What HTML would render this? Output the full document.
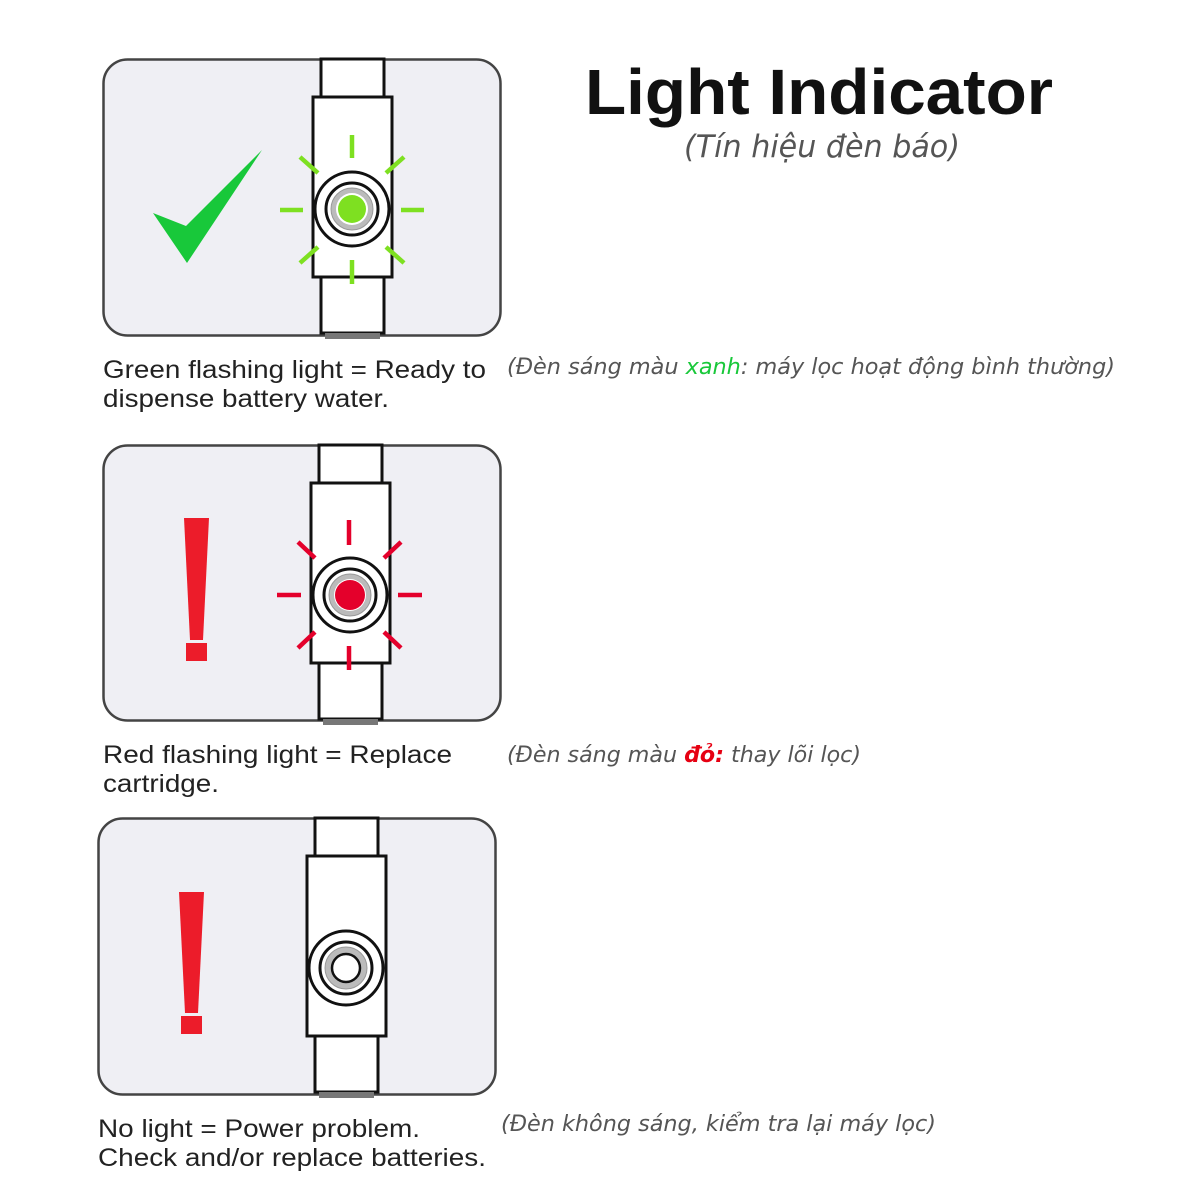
<!DOCTYPE html>
<html><head><meta charset="utf-8"><style>html,body{margin:0;padding:0;background:#fff}svg{display:block}</style></head>
<body>
<svg width="1200" height="1200" viewBox="0 0 1200 1200" xmlns="http://www.w3.org/2000/svg">
<defs>
<g id="dev">
 <rect x="8" y="-38" width="63" height="40" fill="#fff" stroke="#111" stroke-width="3"/>
 <rect x="8" y="178" width="63" height="58" fill="#fff" stroke="#111" stroke-width="3"/>
 <rect x="12" y="236" width="55" height="6" fill="#777"/>
 <rect x="0" y="0" width="79" height="180" fill="#fff" stroke="#111" stroke-width="3"/>
 <circle cx="39" cy="112" r="37" fill="#fff" stroke="#111" stroke-width="3"/>
 <circle cx="39" cy="112" r="26" fill="#fff" stroke="#111" stroke-width="3"/>
 <circle cx="39" cy="112" r="21" fill="#bbb" stroke="#999" stroke-width="1"/>
</g>
</defs>
<!-- Panel 1 -->
<rect x="103.5" y="59.5" width="397" height="276" rx="24" fill="#efeff4" stroke="#444" stroke-width="2.5"/>
<use href="#dev" x="313" y="97"/>
<circle cx="352" cy="209" r="16" fill="#fff"/>
<circle cx="352" cy="209" r="14" fill="#7ee021"/>
<g stroke="#7ee021" stroke-width="4.5">
 <line x1="352" y1="135" x2="352" y2="158"/><line x1="352" y1="260" x2="352" y2="284"/>
 <line x1="280" y1="210" x2="303" y2="210"/><line x1="401" y1="210" x2="424" y2="210"/>
 <line x1="300" y1="157" x2="318" y2="173"/><line x1="386" y1="173" x2="404" y2="157"/>
 <line x1="300" y1="263" x2="318" y2="247"/><line x1="386" y1="247" x2="404" y2="263"/>
</g>
<polygon points="153,213 186,226 262,150 187,263" fill="#18c83a"/>
<!-- Panel 2 -->
<rect x="103.5" y="445.5" width="397" height="275" rx="24" fill="#efeff4" stroke="#444" stroke-width="2.5"/>
<use href="#dev" x="311" y="483"/>
<circle cx="350" cy="595" r="16" fill="#fff"/>
<circle cx="350" cy="595" r="15" fill="#e4002b"/>
<g stroke="#e4002b" stroke-width="4.5">
 <line x1="349" y1="520" x2="349" y2="545"/><line x1="349" y1="646" x2="349" y2="670"/>
 <line x1="277" y1="595" x2="301" y2="595"/><line x1="398" y1="595" x2="422" y2="595"/>
 <line x1="298" y1="542" x2="315" y2="558"/><line x1="384" y1="558" x2="401" y2="542"/>
 <line x1="298" y1="648" x2="315" y2="632"/><line x1="384" y1="632" x2="401" y2="648"/>
</g>
<polygon points="184,518 209,518 203,640 190,640" fill="#ec1c2a"/>
<rect x="186" y="643" width="21" height="18" fill="#ec1c2a"/>
<!-- Panel 3 -->
<rect x="98.5" y="818.5" width="397" height="276" rx="24" fill="#efeff4" stroke="#444" stroke-width="2.5"/>
<use href="#dev" x="307" y="856"/>
<circle cx="346" cy="968" r="14" fill="#fff" stroke="#111" stroke-width="2.5"/>
<polygon points="179,892 204,892 198,1013 185,1013" fill="#ec1c2a"/>
<rect x="181" y="1016" width="21" height="18" fill="#ec1c2a"/>
<!-- Title -->
<text x="585" y="114" font-family="Liberation Sans, sans-serif" font-weight="bold" font-size="64" textLength="468" lengthAdjust="spacingAndGlyphs" fill="#111">Light Indicator</text>
<text x="684" y="157" font-family="DejaVu Sans, sans-serif" font-style="italic" font-size="31" textLength="276" lengthAdjust="spacingAndGlyphs" fill="#555">(Tín hiệu đèn báo)</text>
<!-- Captions -->
<g font-family="Liberation Sans, sans-serif" font-size="25" fill="#222">
<text x="103" y="378" textLength="383" lengthAdjust="spacingAndGlyphs">Green flashing light = Ready to</text>
<text x="103" y="407" textLength="286" lengthAdjust="spacingAndGlyphs">dispense battery water.</text>
<text x="103" y="763" textLength="349" lengthAdjust="spacingAndGlyphs">Red flashing light = Replace</text>
<text x="103" y="792" textLength="116" lengthAdjust="spacingAndGlyphs">cartridge.</text>
<text x="98" y="1137" textLength="322" lengthAdjust="spacingAndGlyphs">No light = Power problem.</text>
<text x="98" y="1166" textLength="388" lengthAdjust="spacingAndGlyphs">Check and/or replace batteries.</text>
</g>
<g font-family="DejaVu Sans, sans-serif" font-style="italic" font-size="22" fill="#555">
<text x="507" y="374" textLength="608" lengthAdjust="spacingAndGlyphs">(Đèn sáng màu <tspan fill="#19c83a">xanh</tspan>: máy lọc hoạt động bình thường)</text>
<text x="507" y="762" textLength="354" lengthAdjust="spacingAndGlyphs">(Đèn sáng màu <tspan fill="#e60012" font-weight="bold">đỏ:</tspan> thay lõi lọc)</text>
<text x="501" y="1131" textLength="435" lengthAdjust="spacingAndGlyphs">(Đèn không sáng, kiểm tra lại máy lọc)</text>
</g>
</svg>
</body></html>
